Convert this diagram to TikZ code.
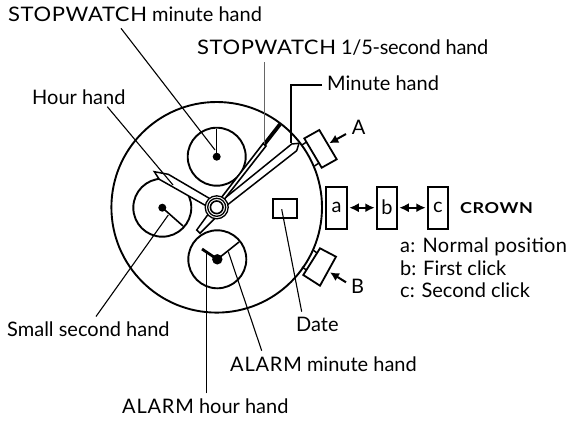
\documentclass[tikz,border=0pt]{standalone}
\usepackage{fontspec}
\setmainfont{Lato}
\newfontfamily\widefont[LetterSpace=3,FakeStretch=1.1]{Lato}
\newfontfamily\alarmfont[LetterSpace=4]{Lato}
\newfontfamily\tightfont[LetterSpace=-1.3]{Lato}
\newfontfamily\notefont[LetterSpace=1.5]{Lato}
\newfontfamily\crownfont[LetterSpace=4,FakeStretch=1.2]{Lato}
\usetikzlibrary{arrows.meta}
\begin{document}
\begin{tikzpicture}[x=1pt,y=-1pt,
  lab/.style={inner sep=0pt,font=\fontsize{20}{22}\selectfont,anchor=base west},
  leader/.style={line width=1.1pt},
  heavy/.style={line width=1.9pt},
  stud/.style={line width=1.8pt,fill=white,line join=miter},
  handline/.style={line width=1.5pt,fill=white,line join=miter},
  key/.style={draw,line width=1.9pt,inner sep=0pt,fill=white,minimum height=42pt,font=\fontsize{20}{22}\selectfont},
  dbl/.style={line width=1.8pt,shorten <=1pt,shorten >=1pt,{Latex[length=9.5pt,width=9pt]}-{Latex[length=9.5pt,width=9pt]}},
  ptr/.style={line width=2pt,-{Latex[length=9pt,width=9pt]}}]
\useasboundingbox (0,0) rectangle (569,420);
% pushers
\draw[stud] (304.3,138.4) -- (319.3,130) -- (336.7,159.3) -- (321.7,167.7) -- cycle;
\draw[stud] (303.3,275) -- (320,285.7) -- (336,256.7) -- (320,248.3) -- cycle;
\draw[line width=1.5pt] (306.5,142) -- (302,145) (319,163) -- (314.5,166);
\draw[line width=1.5pt] (317,253) -- (313,250) (306.5,270) -- (302,267);
% case
\coordinate (c) at (216.7,207.3);
\draw[heavy] (c) circle (105.3);
% sub dials
\coordinate (d1) at (216.7,156.7);
\coordinate (d2) at (162.3,207.7);
\coordinate (d3) at (217.3,259.3);
\draw[heavy] (d1) circle (29) (d2) circle (29) (d3) circle (29);
\fill (d1) circle (4); \fill (d2) circle (4); \fill (d3) circle (5.2);
\draw[line width=1.3pt] (d1) -- ++(0,-28);
\draw[line width=1.6pt] (d2) -- (183,226);
\draw[line width=1.6pt] (d3) -- (239,242);
\draw[line width=2.8pt] (d3) -- (202,249);
% date
\node[draw,line width=1.9pt,minimum width=24.5pt,minimum height=19.3pt,inner sep=0pt] (date) at (285,208.3) {};
% hands
\draw[handline] (213,200.5) -- (168.3,174.3) -- (154.3,171.7) -- (159.3,179.3) -- (210,208) -- cycle;
\draw[handline] (221.7,200.7) -- (291.7,144) -- (299,143.3) -- (296.7,150.7) -- (227.3,205) -- (215,218.3) -- (200,233.3) -- (196.7,230) -- (210,211.7) -- cycle;
\draw[line width=1.6pt,fill=white] (219.5,200) -- (263.3,143.3) -- (266,146) -- (223,201) -- cycle;
\draw[line width=3.8pt] (263.8,145) -- (280,124.3);
\draw[line width=1.3pt,fill=white] (c) circle (11.5);
\draw[line width=1.3pt,fill=white] (c) circle (9);
\draw[line width=1.6pt,fill=white] (c) circle (6.3);
% crown
\node[key,minimum width=21.6pt] (a) at (336.5,207.7) {a};
\node[key,minimum width=20.6pt] (b) at (387,207.7) {b};
\node[key,minimum width=20.6pt] (cc) at (438,207.7) {c};
\draw[dbl] (a) -- (b);
\draw[dbl] (b) -- (cc);
\node[inner sep=0pt,anchor=base west,font=\fontsize{15}{16}\selectfont\crownfont\bfseries] (crown) at (460,213.5) {CROWN};
% labels
\node[lab] (t1) at (8,22) {{\widefont STOPWATCH} minute hand};
\node[lab] (t2) at (197,55) {{\widefont STOPWATCH} {\tightfont 1/5-second hand}};
\node[lab] (t3) at (327,90) {Minute hand};
\node[lab] (t4) at (32,104) {Hour hand};
\node[lab] (ta) at (351.7,134) {A};
\node[lab] (tb) at (351,293.3) {B};
\node[lab] (t5) at (7,336.7) {Small second hand};
\node[lab] (t6) at (296,331) {Date};
\node[lab] (t7) at (230,371.7) {{\alarmfont ALARM} minute hand};
\node[lab] (t8) at (122,413.3) {{\alarmfont ALARM} hour hand};
\node[lab] (n1) at (400,252.7) {\notefont a: Normal position};
\node[lab] (n2) at (400,275) {b: First click};
\node[lab] (n3) at (400,297.3) {c: Second click};
% leaders
\coordinate (l1) at (121,28.3); \coordinate (l1e) at (215,150);
\draw[leader] (l1) -- (l1e);
\coordinate (l2) at (264.5,62); \coordinate (l2e) at (264.5,144);
\draw[line width=1.3pt,black!60] (l2) -- (l2e);
\coordinate (l3) at (322,85); \coordinate (l3b) at (291,85); \coordinate (l3e) at (291,143);
\draw[leader] (l3) -- (l3b) -- (l3e);
\coordinate (l4) at (107.3,106.7); \coordinate (l4e) at (173,185);
\draw[leader] (l4) -- (l4e);
\coordinate (l5) at (96,316.5); \coordinate (l5e) at (168.3,215);
\draw[leader] (l5) -- (l5e);
\coordinate (l6) at (301.7,311.7); \coordinate (l6e) at (281.7,209.3);
\draw[leader] (l6) -- (l6e);
\coordinate (l7) at (261.7,350.7); \coordinate (l7e) at (228.3,251.7);
\draw[leader] (l7) -- (l7e);
\coordinate (l8) at (206.7,393.3); \coordinate (l8e) at (206.7,253);
\draw[leader] (l8) -- (l8e);
\coordinate (pa) at (346,134); \coordinate (pae) at (329.3,143.3);
\draw[ptr] (pa) -- (pae);
\coordinate (pb) at (346,282.3); \coordinate (pbe) at (330,272.3);
\draw[ptr] (pb) -- (pbe);
\end{tikzpicture}
\end{document}
